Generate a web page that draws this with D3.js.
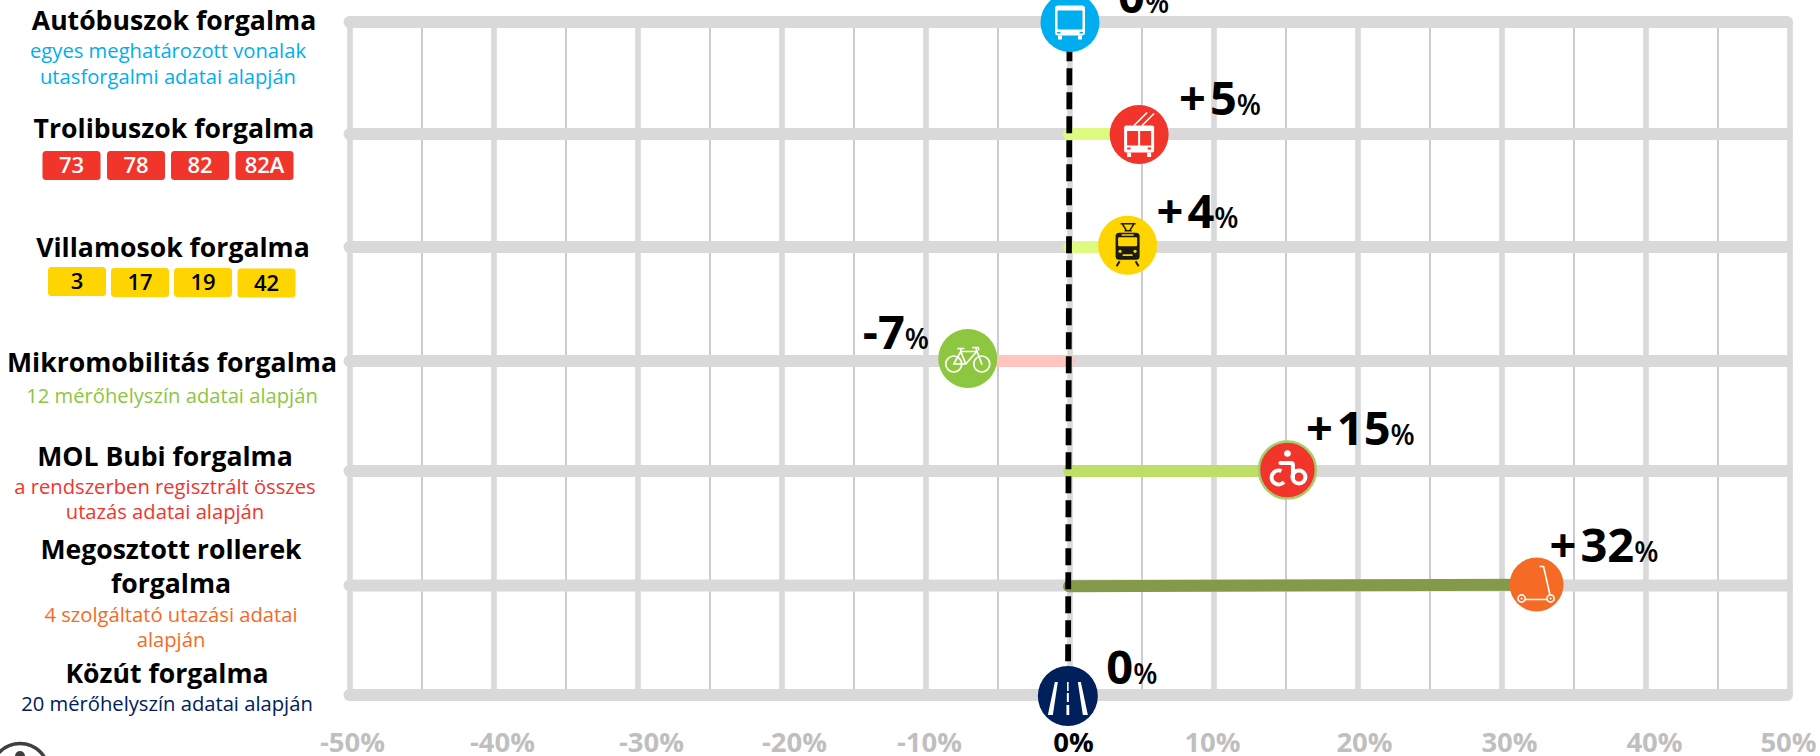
<!DOCTYPE html>
<html lang="hu"><head><meta charset="utf-8">
<script src="https://cdnjs.cloudflare.com/ajax/libs/d3/7.8.5/d3.min.js"></script>
<style>
html,body{margin:0;padding:0;background:#fff;overflow:hidden}
svg{display:block}
text{font-family:"Open Sans","Noto Sans",sans-serif}
</style></head><body>
<svg id="c" width="1820" height="756"></svg>
<script>
// ---- data ----
const categories=["bus","trolley","tram","micro","bubi","scooter","road"];
const shownValues=[0,5,4,-7,15,32,0];
const markerValues=[0,4.8,4,-7.1,15.1,32.4,-0.15];
const valueSigns=["","+","+","-","+","+",""];
const tickValues=[-50,-40,-30,-20,-10,0,10,20,30,40,50];
const minorTicks=[-45,-35,-25,-15,-5,5,15,25,35,45];
const tickLabels=["-50%","-40%","-30%","-20%","-10%","0%","10%","20%","30%","40%","50%"];
const titles=[["Autóbuszok forgalma"],["Trolibuszok forgalma"],["Villamosok forgalma"],["Mikromobilitás forgalma"],["MOL Bubi forgalma"],["Megosztott rollerek","forgalma"],["Közút forgalma"]];
const subtitles=[["egyes meghatározott vonalak","utasforgalmi adatai alapján"],[],[],["12 mérőhelyszín adatai alapján"],["a rendszerben regisztrált összes","utazás adatai alapján"],["4 szolgáltató utazási adatai","alapján"],["20 mérőhelyszín adatai alapján"]];
const trolleyLines=["73","78","82","82A"];
const tramLines=["3","17","19","42"];

// ---- layout / style ----
const rowY=[22,134,247,361,471,585.5,695];
const markerDy=[0.5,0.5,-1.7,-2.5,-1,-1,1];
const markerR=[29.5,29.5,29.5,29.5,28.5,27,30];
const markerFill=["#00aeef","#f1352b","#ffd500","#8dc63f","#f1352b","#f56a25","#00205b"];
const barFill=[null,"#dcfb80","#dcfb80","#ffc5be","#bedf66","#85994a",null];
const subFill=["#00aeef","","","#8dc63f","#f1352b","#f56a25","#00205b"];
const labelDx=[48,40,29,-105,18.5,13,38.5];        // label start relative to marker centre
const labelBase=[13,115,228,349,445,562,684];
const titleCx=[174,174,173,172,165,171,167];
const titleBase=[[30],[138],[257],[372],[466],[559,593],[683]];
const subBase=[[58,84],[],[],[403],[494,519],[622,647],[711]];
const tickDx=[2,8,13,12,3,3,-2,6,7,8,-2];

const svg=d3.select("#c");
const x=d3.scaleLinear().domain([-50,50]).range([350,1790]);
const y=d3.scaleOrdinal(categories,rowY);

// grid
const grid=svg.append("g");
grid.selectAll(".minor").data(minorTicks).join("line").attr("x1",x).attr("x2",x)
 .attr("y1",rowY[0]).attr("y2",rowY[6]).attr("stroke","#bfbfbf").attr("stroke-width",1.6);
grid.selectAll(".major").data(tickValues).join("line").attr("x1",x).attr("x2",x)
 .attr("y1",rowY[0]).attr("y2",rowY[6]).attr("stroke","#d9d9d9").attr("stroke-width",5.6);
grid.selectAll(".row").data(categories).join("line").attr("x1",x(-50)-0.5).attr("x2",x(50)-3)
 .attr("y1",y).attr("y2",y).attr("stroke","#d9d9d9").attr("stroke-width",12).attr("stroke-linecap","round");

// bars
svg.append("g").selectAll("line").data(categories.map((c,i)=>({c,i})).filter(d=>barFill[d.i])).join("line")
 .attr("x1",x(0)-1).attr("x2",d=>x(markerValues[d.i]))
 .attr("y1",d=>y(d.c)+(d.c==="scooter"?0.8:0)).attr("y2",d=>y(d.c)-(d.c==="scooter"?0.8:0))
 .attr("stroke",d=>barFill[d.i]).attr("stroke-width",12).attr("stroke-linecap","round");

// zero line
svg.append("line").attr("x1",x(0)-0.5).attr("x2",x(0)-2).attr("y1",20.3).attr("y2",rowY[6])
 .attr("stroke","#000").attr("stroke-width",5.8).attr("stroke-dasharray","17 7");

// markers
const mk=svg.append("g").selectAll("g").data(categories).join("g")
 .attr("transform",(c,i)=>`translate(${x(markerValues[i])},${y(c)+markerDy[i]})`);
mk.append("circle").attr("r",(c,i)=>markerR[i]).attr("fill",(c,i)=>markerFill[i])
 .attr("stroke",c=>c==="bubi"?"#a5cf6b":"none").attr("stroke-width",2.5);

const W="#fff";
function P(g,d,o){const p=g.append("path").attr("d",d);Object.entries(Object.assign({fill:"none"},o)).forEach(([k,v])=>p.attr(k,v));return p;}
function R(g,a,b,w,h,r,f){g.append("rect").attr("x",a).attr("y",b).attr("width",w).attr("height",h).attr("rx",r).attr("fill",f);}
function C(g,a,b,r,o){const p=g.append("circle").attr("cx",a).attr("cy",b).attr("r",r);Object.entries(o).forEach(([k,v])=>p.attr(k,v));}

// bus
{const g=mk.filter(c=>c==="bus");
 R(g,-15,-17,30,30,3,W);R(g,-12.5,-12,25,19,1,markerFill[0]);
 R(g,-13,9.5,3.5,1.5,.5,markerFill[0]);R(g,9.5,9.5,3.5,1.5,.5,markerFill[0]);
 R(g,-12,13,4,4,.5,W);R(g,8,13,4,4,.5,W);}
// trolley
{const g=mk.filter(c=>c==="trolley");
 P(g,"M-5,-9L8,-22M3,-9L15,-21",{stroke:W,"stroke-width":1.6});
 R(g,-15,-9,30,27,2,W);R(g,-12,-3.5,11,14.5,0,markerFill[1]);R(g,1,-3.5,11,14.5,0,markerFill[1]);
 R(g,-12,13,3.5,2,.5,markerFill[1]);R(g,8.5,13,3.5,2,.5,markerFill[1]);
 R(g,-12,18,4,4.5,.5,W);R(g,8,18,4,4.5,.5,W);}
// tram
{const g=mk.filter(c=>c==="tram");const K="#1a1a1a";
 P(g,"M-7,-21.5H8M-5,-21L-1,-14.5H2L6,-21M-3,-14.5H4",{stroke:K,"stroke-width":1.6});
 R(g,-12,-12.5,24,27,3.5,K);R(g,-9.5,-8,19,9,1,markerFill[2]);
 R(g,-6,-11,12,1.4,.3,markerFill[2]);R(g,-5,9,10,1.6,.3,markerFill[2]);
 C(g,-7.5,6,1.6,{fill:markerFill[2]});C(g,7.5,6,1.6,{fill:markerFill[2]});
 P(g,"M-8,16L-11,21M8,16L11,21",{stroke:K,"stroke-width":2});}
// bike
{const g=mk.filter(c=>c==="micro");const o={stroke:W,"stroke-width":1.7};
 g.attr("stroke-linecap","round");
 C(g,-14,5.5,8,{fill:"none",stroke:W,"stroke-width":1.7});C(g,14,5.5,8,{fill:"none",stroke:W,"stroke-width":1.7});
 P(g,"M-14,5.5L-7,-7H9L-2,5.5H-14M-7,-7L-2,5.5M8,-10.5L14,5.5M5,-11H10.5L11,-9M-10,-10H-4M-7,-10L-7,-7",o);}
// bubi
{const g=mk.filter(c=>c==="bubi");
 C(g,0,-16.5,3.3,{fill:W});
 P(g,"M-7,-7H3.5Q5.5,-7 5.5,-5V8",{stroke:W,"stroke-width":4,"stroke-linecap":"round"});
 P(g,"M-6,1A7,7 0 1,0 -3.5,12",{stroke:W,"stroke-width":4});
 C(g,11.5,7,6.5,{fill:"none",stroke:W,"stroke-width":4});}
// scooter
{const g=mk.filter(c=>c==="scooter");const o={stroke:W,"stroke-width":1.6};
 P(g,"M3,-18H7L14,13M-15,15H14",o);
 C(g,-15,14,3.6,{fill:markerFill[5],stroke:W,"stroke-width":1.6});C(g,14,14,3.6,{fill:markerFill[5],stroke:W,"stroke-width":1.6});
 C(g,-15,14,1,{fill:W});C(g,14,14,1,{fill:W});}
// road
{const g=mk.filter(c=>c==="road");
 P(g,"M-13,-14H-10L-15,19H-20ZM10,-14H13L20,19H15Z",{fill:W});
 R(g,-0.8,-14,1.6,9,0,W);R(g,-1,-3,2,9,0,W);R(g,-1.4,9,2.8,10,0,W);}

// value labels
const vl=svg.append("g").selectAll("text").data(categories).join("text")
 .attr("x",(c,i)=>x(markerValues[i])+labelDx[i]).attr("y",(c,i)=>labelBase[i]).attr("fill","#000");
vl.append("tspan").attr("font-size",47).attr("font-weight",700).text((c,i)=>valueSigns[i]);
vl.append("tspan").attr("font-size",47).attr("font-weight",700).attr("dx",(c,i)=>valueSigns[i]==="+"?4:0).text((c,i)=>Math.abs(shownValues[i]));
vl.append("tspan").attr("font-size",28).attr("font-weight",600).text("%");

// x axis
const ax=svg.append("g").attr("transform","translate(0,752)")
 .call(d3.axisBottom(x).tickValues(tickValues).tickSize(0).tickPadding(0).tickFormat((d,i)=>tickLabels[i]));
ax.select(".domain").remove();
ax.selectAll("text").attr("y",0).attr("dy",0).attr("dx",(d,i)=>tickDx[i])
 .style("font-family",'"Open Sans"').attr("font-size",27.5).attr("font-weight",700)
 .attr("fill",d=>d===0?"#000":"#bfbfbf");

// left labels
const left=svg.append("g").attr("text-anchor","middle");
titles.forEach((ls,i)=>ls.forEach((t,j)=>left.append("text").attr("x",titleCx[i]).attr("y",titleBase[i][j])
 .attr("font-size",26.6).attr("font-weight",700).attr("fill","#000").text(t)));
subtitles.forEach((ls,i)=>ls.forEach((t,j)=>left.append("text").attr("x",titleCx[i]-(i===0?6:0)).attr("y",subBase[i][j])
 .attr("font-size",20.2).attr("fill",subFill[i]).text(t)));

// line badges
const badgeX=[[42.5,107,171,235.5],[48,111,174,237.5]];
const badgeY=[[151,151,151,151],[267,268,268,268.5]];
const badgeBase=[[173,173,173,173],[289,290,290,291]];
[[trolleyLines,"#f1352b","#fff"],[tramLines,"#ffd500","#000"]].forEach(([ls,f,tc],k)=>{
 const b=svg.append("g").selectAll("g").data(ls).join("g");
 b.append("rect").attr("x",(d,i)=>badgeX[k][i]).attr("y",(d,i)=>badgeY[k][i]).attr("width",58).attr("height",29).attr("rx",3.5).attr("fill",f);
 b.append("text").attr("x",(d,i)=>badgeX[k][i]+29).attr("y",(d,i)=>badgeBase[k][i])
  .attr("text-anchor","middle").attr("font-size",22).attr("font-weight",600).attr("fill",tc).text(d=>d);
});

// info icon (cropped at the bottom edge)
const info=svg.append("g").attr("transform","translate(20,772)");
info.append("circle").attr("r",28.5).attr("fill","none").attr("stroke","#404040").attr("stroke-width",3.5);
info.append("circle").attr("cy",-16).attr("r",5).attr("fill","#404040");
</script></body></html>
